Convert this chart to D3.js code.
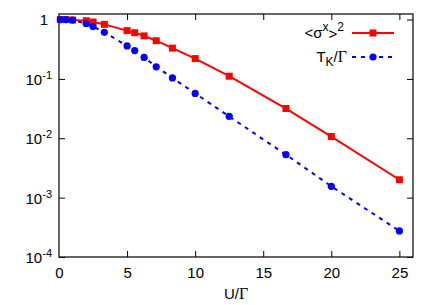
<!DOCTYPE html>
<html>
<head>
<meta charset="utf-8">
<script src="https://cdn.jsdelivr.net/npm/d3@7"></script>
<style>
  body { margin: 0; background: #fff; }
  svg { font-family: "Liberation Sans", Arial, sans-serif; }
  .tick line { stroke: #000; }
  .sym { font-family: "Liberation Serif", "Times New Roman", serif; }
</style>
</head>
<body>
<script>
// U/Gamma values and the two series
const uSigma = [0.1, 0.5, 1, 2, 2.5, 3.33, 5, 5.56, 6.25, 7.14, 8.33, 10, 12.5, 16.67, 20, 25];
const sigma2 = [1.0, 1.0, 0.98, 0.955, 0.91, 0.83, 0.65, 0.60, 0.53, 0.44, 0.33, 0.22, 0.111, 0.0317, 0.0107, 0.0020];

const uTk = [0.1, 0.5, 1, 2, 2.5, 3.33, 5, 5.56, 6.25, 7.14, 8.33, 10, 12.5, 16.67, 20, 25];
const tk = [1.0, 1.0, 0.98, 0.85, 0.76, 0.61, 0.36, 0.30, 0.23, 0.16, 0.104, 0.057, 0.0233, 0.0053, 0.00155, 0.000275];

const xTicks = [0, 5, 10, 15, 20, 25];
const yTicks = [1, 1e-1, 1e-2, 1e-3, 1e-4];

const W = 436, H = 305;
const m = { left: 59, right: 23, top: 14, bottom: 48 };
const iw = W - m.left - m.right, ih = H - m.top - m.bottom;

const svg = d3.select('body').append('svg')
  .attr('width', W).attr('height', H);

const g = svg.append('g').attr('transform', `translate(${m.left},${m.top})`);

const x = d3.scaleLinear().domain([0, 26]).range([0, iw]);
const y = d3.scaleLog().domain([1e-4, 1.24]).range([ih, 0]);

// ticks, all pointing inward
const bottomAxis = g.append('g').attr('transform', `translate(0,${ih})`)
  .call(d3.axisBottom(x).tickValues(xTicks).tickSizeInner(-6).tickSizeOuter(0).tickPadding(10));
g.append('g')
  .call(d3.axisTop(x).tickValues(xTicks.slice(1)).tickSizeInner(-6).tickSizeOuter(0).tickFormat(''));
const leftAxis = g.append('g')
  .call(d3.axisLeft(y).tickValues(yTicks).tickSizeInner(-6).tickSizeOuter(0).tickPadding(7).tickFormat(''));
g.append('g').attr('transform', `translate(${iw},0)`)
  .call(d3.axisRight(y).tickValues(yTicks).tickSizeInner(-6).tickSizeOuter(0).tickFormat(''));

g.selectAll('.domain').remove();
g.selectAll('.tick text').attr('fill', '#000').attr('font-size', 15);
g.selectAll('.tick').filter(d => d === 0).select('line').remove();

bottomAxis.selectAll('.tick text').attr('dy', '0.71em');

leftAxis.selectAll('.tick text').each(function (d) {
  const t = d3.select(this).attr('dy', '0.36em');
  const e = Math.round(Math.log10(d));
  if (e === 0) {
    t.attr('x', -11).text('1');
    return;
  }
  t.append('tspan').text('10');
  t.append('tspan').attr('font-size', 11).attr('dy', -6).text(e);
});

// border
g.append('rect').attr('width', iw).attr('height', ih)
  .attr('fill', 'none').attr('stroke', '#000').attr('stroke-width', 1.2);

// series
const line = d3.line().x(d => x(d[0])).y(d => y(d[1]));
const redData = uSigma.map((u, i) => [u, sigma2[i]]);
const blueData = uTk.map((u, i) => [u, tk[i]]);

g.append('path').datum(redData).attr('d', line)
  .attr('fill', 'none').attr('stroke', '#ff0000').attr('stroke-width', 2);
g.append('path').datum(blueData).attr('d', line)
  .attr('fill', 'none').attr('stroke', '#0000ff').attr('stroke-width', 2)
  .attr('stroke-dasharray', '4,5');

g.selectAll('.sq').data(redData).enter().append('rect')
  .attr('x', d => x(d[0]) - 3.5).attr('y', d => y(d[1]) - 3.5)
  .attr('width', 7).attr('height', 7).attr('fill', '#ff0000');
g.selectAll('.dot').data(blueData).enter().append('circle')
  .attr('cx', d => x(d[0])).attr('cy', d => y(d[1])).attr('r', 3.6)
  .attr('fill', '#0000ff');

// legend
const lg = svg.append('g');
const l1 = lg.append('text').attr('x', 344).attr('y', 38).attr('text-anchor', 'end').attr('font-size', 15);
l1.append('tspan').text('<σ');
l1.append('tspan').attr('font-size', 12).attr('dy', -7).text('x');
l1.append('tspan').attr('dy', 8).text('>');
l1.append('tspan').attr('font-size', 12).attr('dy', -8).text('2');
lg.append('line').attr('x1', 352).attr('x2', 394).attr('y1', 33).attr('y2', 33)
  .attr('stroke', '#ff0000').attr('stroke-width', 2);
lg.append('rect').attr('x', 369.5).attr('y', 29.5).attr('width', 7).attr('height', 7).attr('fill', '#ff0000');

const l2 = lg.append('text').attr('x', 347).attr('y', 62).attr('text-anchor', 'end').attr('font-size', 15);
l2.append('tspan').text('T');
l2.append('tspan').attr('font-size', 12).attr('dy', 4).text('K');
l2.append('tspan').attr('dy', -4).text('/');
l2.append('tspan').attr('class', 'sym').attr('font-size', 16).text('Γ');
lg.append('line').attr('x1', 352).attr('x2', 394).attr('y1', 57).attr('y2', 57)
  .attr('stroke', '#0000ff').attr('stroke-width', 2).attr('stroke-dasharray', '4,5');
lg.append('circle').attr('cx', 373).attr('cy', 57).attr('r', 3.6).attr('fill', '#0000ff');

// x axis title
const xt = svg.append('text').attr('x', m.left + iw / 2).attr('y', 299)
  .attr('text-anchor', 'middle').attr('font-size', 15);
xt.append('tspan').text('U/');
xt.append('tspan').attr('class', 'sym').attr('font-size', 16).text('Γ');
</script>
</body>
</html>
